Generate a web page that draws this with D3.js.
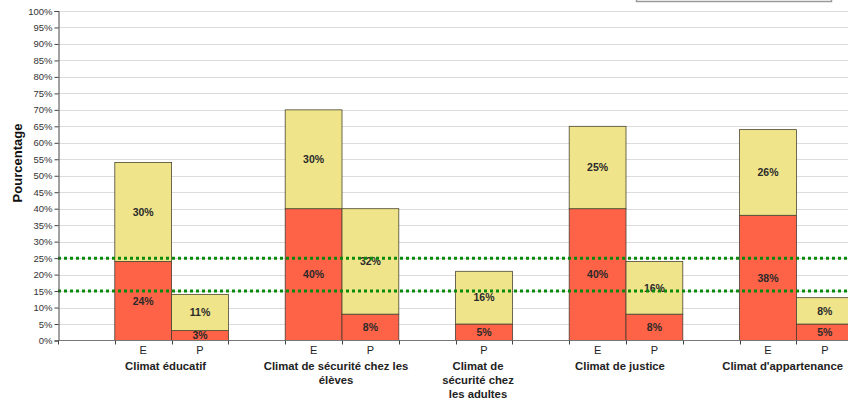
<!DOCTYPE html>
<html>
<head>
<meta charset="utf-8">
<script src="https://cdn.jsdelivr.net/npm/d3@7"></script>
<style>
  body { margin: 0; background: #fff; }
  svg { display: block; font-family: "Liberation Sans", Arial, sans-serif; }
</style>
</head>
<body>
<div id="chart"></div>
<script>
// categories, each split into E / P bars
const categoryLines = [
  ["Climat éducatif"],
  ["Climat de sécurité chez les", "élèves"],
  ["Climat de", "sécurité chez", "les adultes"],
  ["Climat de justice"],
  ["Climat d'appartenance"]
];
const barCategory = [0, 0, 1, 1, 2, 3, 3, 4, 4];
const barGroup = ["E", "P", "E", "P", "P", "E", "P", "E", "P"];
const lowValues = [24, 3, 40, 8, 5, 40, 8, 38, 5];
const highValues = [30, 11, 30, 32, 16, 25, 16, 26, 8];
const yTicks = d3.range(0, 101, 5);
const refLines = [15, 25];

var width = 848,
  height = 401;
var plotLeft = 58,
  plotTop = 11,
  plotBottom = 340.5;

// slot list: a gap before each category and after the last one
var slots = ["gap0"];
categoryLines.forEach(function (c, ci) {
  barCategory.forEach(function (bc, bi) {
    if (bc === ci) slots.push("bar" + bi);
  });
  slots.push("gap" + (ci + 1));
});

var x = d3
  .scaleBand()
  .domain(slots)
  .range([plotLeft, plotLeft + slots.length * 56.8])
  .paddingInner(0)
  .paddingOuter(0);

var y = d3.scaleLinear().domain([0, 100]).range([plotBottom, plotTop]);

var bars = lowValues.map(function (v, i) {
  return {
    key: "bar" + i,
    cat: barCategory[i],
    group: barGroup[i],
    low: v,
    high: highValues[i],
  };
});

var svg = d3
  .select("#chart")
  .append("svg")
  .attr("width", width)
  .attr("height", height);

// gridlines
svg
  .append("g")
  .selectAll("line")
  .data(yTicks.filter((d) => d > 0))
  .enter()
  .append("line")
  .attr("x1", plotLeft)
  .attr("x2", width)
  .attr("y1", (d) => Math.round(y(d)) + 0.5)
  .attr("y2", (d) => Math.round(y(d)) + 0.5)
  .attr("stroke", "#dcdcdc")
  .attr("stroke-width", 1);

// legend box peeking in at the top
svg
  .append("rect")
  .attr("x", 636.5)
  .attr("y", -30)
  .attr("width", 195)
  .attr("height", 31.5)
  .attr("fill", "#fff")
  .attr("stroke", "#9a9a9a")
  .attr("stroke-width", 1.5);

// stacked bars
var barG = svg.append("g");
barG
  .selectAll(".low")
  .data(bars)
  .enter()
  .append("rect")
  .attr("class", "low")
  .attr("x", (d) => x(d.key))
  .attr("width", x.bandwidth())
  .attr("y", (d) => y(d.low))
  .attr("height", (d) => y(0) - y(d.low))
  .attr("fill", "#ff6347")
  .attr("stroke", "#4a3a30")
  .attr("stroke-width", 0.8);

barG
  .selectAll(".high")
  .data(bars)
  .enter()
  .append("rect")
  .attr("class", "high")
  .attr("x", (d) => x(d.key))
  .attr("width", x.bandwidth())
  .attr("y", (d) => y(d.low + d.high))
  .attr("height", (d) => y(d.low) - y(d.low + d.high))
  .attr("fill", "#efe48a")
  .attr("stroke", "#4a4630")
  .attr("stroke-width", 0.8);

// value labels in the middle of each segment
var labelData = [];
bars.forEach(function (d) {
  labelData.push({ key: d.key, v: d.low, mid: d.low / 2 });
  labelData.push({ key: d.key, v: d.high, mid: d.low + d.high / 2 });
});
barG
  .selectAll(".val")
  .data(labelData)
  .enter()
  .append("text")
  .attr("class", "val")
  .attr("x", (d) => x(d.key) + x.bandwidth() / 2)
  .attr("y", (d) => y(d.mid))
  .attr("dy", "0.36em")
  .attr("text-anchor", "middle")
  .attr("font-size", "10.5px")
  .attr("font-weight", "bold")
  .attr("fill", "#2a2a2a")
  .text((d) => d.v + "%");

// reference lines
svg
  .append("g")
  .selectAll("line")
  .data(refLines)
  .enter()
  .append("line")
  .attr("x1", plotLeft)
  .attr("x2", width)
  .attr("y1", (d) => y(d))
  .attr("y2", (d) => y(d))
  .attr("stroke", "#0a8a0a")
  .attr("stroke-width", 3)
  .attr("stroke-dasharray", "3,3");

// y axis
var yAxis = svg
  .append("g")
  .attr("transform", "translate(" + (plotLeft + 0.5) + ",0)")
  .call(
    d3
      .axisLeft(y)
      .tickValues(yTicks)
      .tickSize(4)
      .tickPadding(2)
      .tickFormat((d) => d + "%")
  );
yAxis.select(".domain").attr("stroke", "#444");
yAxis.selectAll(".tick line").attr("stroke", "#444");
yAxis
  .selectAll(".tick text")
  .attr("font-size", "9.5px")
  .attr("fill", "#333")
  .attr("font-family", "Liberation Sans, Arial, sans-serif");

// x axis line + ticks at slot boundaries
var xAxis = svg.append("g");
xAxis
  .append("line")
  .attr("x1", plotLeft)
  .attr("x2", width)
  .attr("y1", plotBottom)
  .attr("y2", plotBottom)
  .attr("stroke", "#777");
xAxis
  .selectAll(".xt")
  .data(slots)
  .enter()
  .append("line")
  .attr("x1", (d) => Math.round(x(d)) + 0.5)
  .attr("x2", (d) => Math.round(x(d)) + 0.5)
  .attr("y1", plotBottom)
  .attr("y2", plotBottom + 4)
  .attr("stroke", "#444");

xAxis
  .selectAll(".grp")
  .data(bars)
  .enter()
  .append("text")
  .attr("x", (d) => x(d.key) + x.bandwidth() / 2)
  .attr("y", 354)
  .attr("text-anchor", "middle")
  .attr("font-size", "11px")
  .attr("fill", "#222")
  .text((d) => d.group);

// category labels under their bars (drawn a little left of centre, as in the source)
categoryLines.forEach(function (lines, ci) {
  var own = bars.filter((b) => b.cat === ci);
  var cx = d3.mean(own, (b) => x(b.key) + x.bandwidth() / 2) - 6;
  var t = xAxis
    .append("text")
    .attr("text-anchor", "middle")
    .attr("font-size", "11.3px")
    .attr("font-weight", "bold")
    .attr("fill", "#222");
  lines.forEach(function (l, li) {
    t.append("tspan")
      .attr("x", cx)
      .attr("y", 370 + li * 14)
      .text(l);
  });
  var w = t.node().getBBox().width;
  if (cx + w / 2 > width - 5) {
    t.selectAll("tspan").attr("x", width - 5 - w / 2);
  }
});

// y axis title
svg
  .append("text")
  .attr("transform", "translate(22,163) rotate(-90)")
  .attr("text-anchor", "middle")
  .attr("font-size", "13px")
  .attr("font-weight", "bold")
  .attr("fill", "#111")
  .text("Pourcentage");
</script>
</body>
</html>
